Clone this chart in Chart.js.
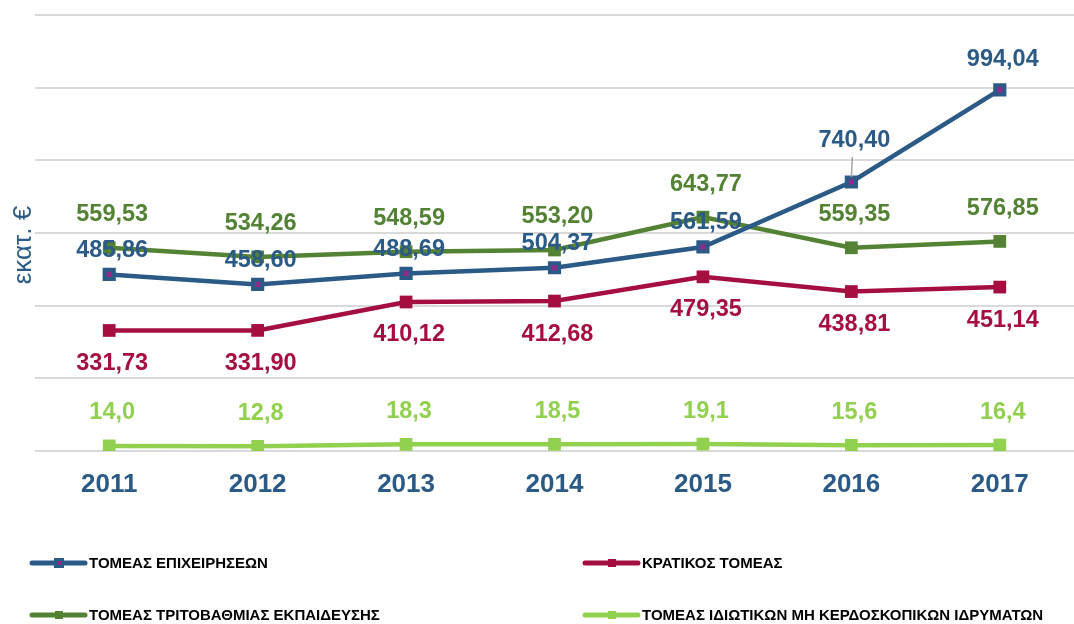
<!DOCTYPE html>
<html>
<head>
<meta charset="utf-8">
<script src="https://cdn.jsdelivr.net/npm/chart.js@4.4.0/dist/chart.umd.min.js"></script>
<style>
html, body { margin: 0; padding: 0; background: #fff; }
#chart1-card { width: 1074px; height: 624px; }
</style>
</head>
<body>
<div id="chart1-card"><canvas id="chart1"></canvas></div>
<script>
// values in million euros
var years = ['2011', '2012', '2013', '2014', '2015', '2016', '2017'];
var business = [485.86, 458.60, 488.69, 504.37, 561.59, 740.40, 994.04];
var government = [331.73, 331.90, 410.12, 412.68, 479.35, 438.81, 451.14];
var higherEd = [559.53, 534.26, 548.59, 553.20, 643.77, 559.35, 576.85];
var nonProfit = [14.0, 12.8, 18.3, 18.5, 19.1, 15.6, 16.4];
var seriesNames = [
    'ΤΟΜΕΑΣ ΕΠΙΧΕΙΡΗΣΕΩΝ',
    'ΚΡΑΤΙΚΟΣ ΤΟΜΕΑΣ',
    'ΤΟΜΕΑΣ ΤΡΙΤΟΒΑΘΜΙΑΣ ΕΚΠΑΙΔΕΥΣΗΣ',
    'ΤΟΜΕΑΣ ΙΔΙΩΤΙΚΩΝ ΜΗ ΚΕΡΔΟΣΚΟΠΙΚΩΝ ΙΔΡΥΜΑΤΩΝ'
];
var axisTitle = 'εκατ. €';

var colors = {
    blue: '#2C5A86',
    purple: '#8E2B8C',
    red: '#A50F40',
    green: '#548235',
    lime: '#92D050',
    grid: '#D9D9D9'
};
var FONT = '"Liberation Sans", Arial, sans-serif';

// draws the value next to every point
var valueLabels = {
    id: 'valueLabels',
    afterDatasetsDraw: function (chart) {
        var ctx = chart.ctx;
        ctx.save();
        ctx.font = 'bold 23.5px ' + FONT;
        ctx.textAlign = 'center';
        ctx.textBaseline = 'middle';
        chart.data.datasets.forEach(function (ds, i) {
            var meta = chart.getDatasetMeta(i);
            ctx.fillStyle = ds.borderColor;
            meta.data.forEach(function (pt, j) {
                var shift = ds.labelOffset;
                if (ds.labelShift && ds.labelShift[j] != null)
                    shift = ds.labelShift[j];
                if (Math.abs(shift) > 36) {
                    ctx.save();
                    ctx.strokeStyle = '#A6A6A6';
                    ctx.lineWidth = 1.5;
                    ctx.beginPath();
                    ctx.moveTo(pt.x + 1, pt.y + shift + 16);
                    ctx.lineTo(pt.x, pt.y - 5);
                    ctx.stroke();
                    ctx.restore();
                }
                var txt = ds.data[j].toFixed(ds.decimals).replace('.', ',');
                ctx.fillText(txt, pt.x + 3, pt.y + shift);
            });
        });
        ctx.restore();
    }
};

// y title + bottom legend (two columns)
var extras = {
    id: 'extras',
    afterDraw: function (chart) {
        var ctx = chart.ctx;
        ctx.save();
        ctx.translate(24, 245);
        ctx.rotate(-Math.PI / 2);
        ctx.font = '26px ' + FONT;
        ctx.fillStyle = colors.blue;
        ctx.textAlign = 'center';
        ctx.textBaseline = 'middle';
        ctx.fillText(axisTitle, 0, 0);
        ctx.restore();

        var spots = [[32, 563], [585, 563], [32, 615], [585, 615]];
        chart.data.datasets.forEach(function (ds, i) {
            var x = spots[i][0], y = spots[i][1];
            ctx.save();
            ctx.strokeStyle = ds.borderColor;
            ctx.lineWidth = 5;
            ctx.lineCap = 'round';
            ctx.beginPath();
            ctx.moveTo(x, y);
            ctx.lineTo(x + 53, y);
            ctx.stroke();
            if (ds.pointBorderWidth > 0) {
                ctx.fillStyle = ds.pointBorderColor;
                ctx.fillRect(x + 22, y - 5, 10, 10);
                ctx.fillStyle = ds.pointBackgroundColor;
                ctx.fillRect(x + 25, y - 2, 4, 4);
            } else {
                ctx.fillStyle = ds.pointBackgroundColor;
                ctx.fillRect(x + 23, y - 4, 8, 8);
            }
            ctx.font = 'bold 15px ' + FONT;
            ctx.fillStyle = '#000';
            ctx.textAlign = 'left';
            ctx.textBaseline = 'middle';
            ctx.fillText(ds.label, x + 57, y + 1);
            ctx.restore();
        });
    }
};

var config = {
    type: 'line',
    plugins: [valueLabels, extras],
    data: {
        labels: years,
        datasets: [{
            label: seriesNames[0],
            data: business,
            borderColor: colors.blue,
            pointBackgroundColor: colors.purple,
            pointBorderColor: colors.blue,
            pointBorderWidth: 4,
            pointRadius: 6.5,
            pointHoverRadius: 6.5,
            labelOffset: -24,
            labelShift: { 5: -41, 6: -30 },
            decimals: 2
        }, {
            label: seriesNames[1],
            data: government,
            borderColor: colors.red,
            pointBackgroundColor: colors.red,
            pointBorderColor: colors.red,
            pointBorderWidth: 0,
            pointRadius: 9,
            pointHoverRadius: 9,
            labelOffset: 33,
            decimals: 2
        }, {
            label: seriesNames[2],
            data: higherEd,
            borderColor: colors.green,
            pointBackgroundColor: colors.green,
            pointBorderColor: colors.green,
            pointBorderWidth: 0,
            pointRadius: 9,
            pointHoverRadius: 9,
            labelOffset: -33,
            decimals: 2
        }, {
            label: seriesNames[3],
            data: nonProfit,
            borderColor: colors.lime,
            pointBackgroundColor: colors.lime,
            pointBorderColor: colors.lime,
            pointBorderWidth: 0,
            pointRadius: 9,
            pointHoverRadius: 9,
            labelOffset: -33,
            decimals: 1
        }]
    },
    options: {
        responsive: true,
        maintainAspectRatio: false,
        animation: false,
        layout: {
            autoPadding: false,
            padding: { top: 15, right: 0, bottom: 111, left: 0 }
        },
        elements: {
            line: { borderWidth: 4.5, tension: 0 },
            point: { pointStyle: 'rect' }
        },
        plugins: {
            legend: { display: false },
            tooltip: { enabled: false }
        },
        scales: {
            x: {
                offset: true,
                grid: { display: false, drawTicks: false, offset: true },
                border: { display: false },
                ticks: {
                    color: colors.blue,
                    font: { family: FONT, size: 26, weight: 'bold' },
                    padding: 18
                },
                afterFit: function (s) {
                    s.height = 62;
                    s.paddingLeft = 0;
                    s.paddingRight = 0;
                }
            },
            y: {
                min: 0,
                max: 1200,
                ticks: { display: false, stepSize: 200 },
                grid: { color: colors.grid, lineWidth: 2, drawTicks: false },
                border: { display: false },
                afterFit: function (s) {
                    s.width = 35;
                    s.paddingTop = 0;
                    s.paddingBottom = 0;
                }
            }
        }
    }
};

var ctx = document.getElementById('chart1').getContext('2d');
var chart1 = new Chart(ctx, config);
</script>
</body>
</html>
